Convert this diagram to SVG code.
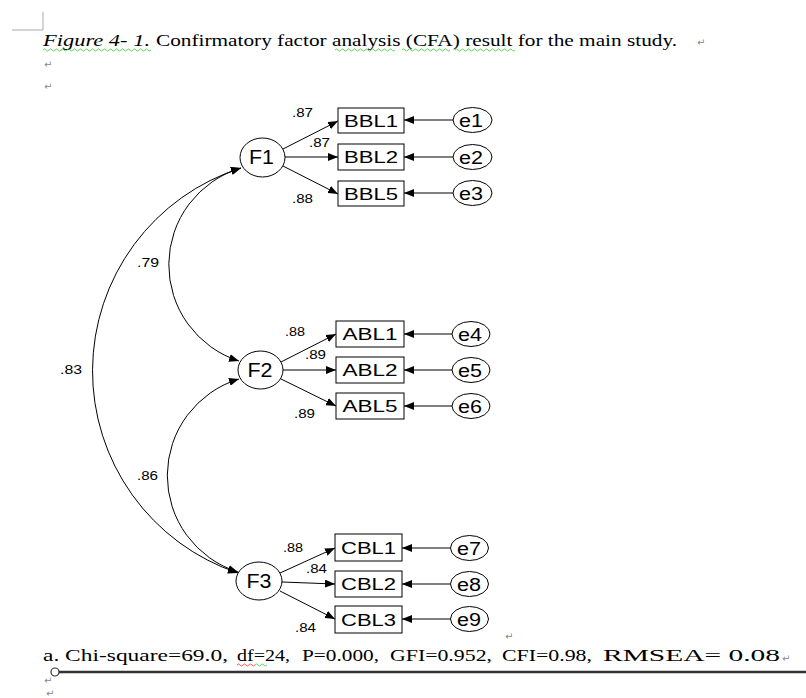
<svg xmlns="http://www.w3.org/2000/svg" width="806" height="698" viewBox="0 0 806 698">
<style>
.lat{fill:#fff;stroke:#000;stroke-width:1}
.obs{fill:#fff;stroke:#000;stroke-width:1}
.fl{font-family:"Liberation Sans",Arial,sans-serif;font-size:20px;fill:#000;text-anchor:middle}
.bl{font-family:"Liberation Sans",Arial,sans-serif;font-size:17px;fill:#000;text-anchor:middle}
.erl{font-family:"Liberation Sans",Arial,sans-serif;font-size:18px;fill:#000;text-anchor:middle}
.el{font-family:"Liberation Sans",Arial,sans-serif;font-size:13px;fill:#000}
.ln{fill:none;stroke:#000;stroke-width:1}
.doc{font-family:"Liberation Serif","Times New Roman",serif;fill:#000}
.pm{font-family:"DejaVu Sans",sans-serif;font-size:10px;fill:#888}
.sq{fill:none;stroke:#3c3;stroke-width:0.8}
</style>
<defs>
<marker id="ah" viewBox="0 0 10 8" refX="10" refY="4" markerWidth="10" markerHeight="8" markerUnits="userSpaceOnUse" orient="auto-start-reverse"><path d="M0,0 L10,4 L0,8 z" fill="#000"/></marker>
</defs>
<rect width="806" height="698" fill="#fff"/>
<!-- page corner mark -->
<path d="M12,30 H43 V12" fill="none" stroke="#aaa" stroke-width="1"/>
<!-- heading -->
<text class="doc" x="43" y="46" font-size="16" font-style="italic" textLength="107" lengthAdjust="spacingAndGlyphs">Figure 4- 1.</text>
<text class="doc" x="156" y="46" font-size="16" textLength="521" lengthAdjust="spacingAndGlyphs">Confirmatory factor analysis (CFA) result for the main study.</text>
<text class="pm" x="697" y="46">↵</text>
<text class="pm" x="44" y="68">↵</text>
<text class="pm" x="44" y="90">↵</text>
<path class="sq" d="M43,50 q1.5,-2 3,0 t3,0 t3,0 t3,0 t3,0 t3,0 t3,0 t3,0 t3,0 t3,0 t3,0 t3,0 t3,0 t3,0 t3,0 t3,0 t3,0 t3,0 t3,0 t3,0 t3,0 t3,0 t3,0 t3,0 t3,0 t3,0 t3,0 t3,0 t3,0 t3,0 t3,0 t3,0 t3,0 t3,0 t3,0 t3,0"/>
<path class="sq" d="M335,50 q1.5,-2 3,0 t3,0 t3,0 t3,0 t3,0 t3,0 t3,0 t3,0 t3,0 t3,0 t3,0 t3,0 t3,0 t3,0 t3,0 t3,0 t3,0 t3,0 t3,0 t3,0"/>
<path class="sq" d="M402,50 q1.5,-2 3,0 t3,0 t3,0 t3,0 t3,0 t3,0 t3,0 t3,0 t3,0 t3,0 t3,0 t3,0 t3,0 t3,0 t3,0 t3,0"/>
<path class="sq" d="M455,50 q1.5,-2 3,0 t3,0 t3,0 t3,0 t3,0 t3,0 t3,0 t3,0 t3,0 t3,0 t3,0 t3,0 t3,0 t3,0 t3,0 t3,0 t3,0 t3,0 t3,0 t3,0"/>

<g id="connectors">
<!-- covariances -->
<path class="ln" d="M241,168 A213,213 0 0 0 238,573" marker-start="url(#ah)" marker-end="url(#ah)"/>
<path class="ln" d="M241,168 A101,101 0 0 0 239,361" marker-start="url(#ah)" marker-end="url(#ah)"/>
<path class="ln" d="M239,379 A101,101 0 0 0 238,572" marker-start="url(#ah)" marker-end="url(#ah)"/>
<!-- loadings F1 -->
<path class="ln" d="M283,149 L338,121" marker-end="url(#ah)"/>
<path class="ln" d="M285,157 L338,157" marker-end="url(#ah)"/>
<path class="ln" d="M283,166 L338,194" marker-end="url(#ah)"/>
<!-- loadings F2 -->
<path class="ln" d="M281,362 L336,334" marker-end="url(#ah)"/>
<path class="ln" d="M283,370 L336,370" marker-end="url(#ah)"/>
<path class="ln" d="M281,379 L336,406" marker-end="url(#ah)"/>
<!-- loadings F3 -->
<path class="ln" d="M280,573 L335,548" marker-end="url(#ah)"/>
<path class="ln" d="M282,582 L335,584" marker-end="url(#ah)"/>
<path class="ln" d="M280,591 L335,619" marker-end="url(#ah)"/>
<!-- errors -->
<path class="ln" d="M453,120 L404,120" marker-end="url(#ah)"/>
<path class="ln" d="M453,157 L404,157" marker-end="url(#ah)"/>
<path class="ln" d="M453,193 L404,193" marker-end="url(#ah)"/>
<path class="ln" d="M452,334 L404,334" marker-end="url(#ah)"/>
<path class="ln" d="M452,370 L404,370" marker-end="url(#ah)"/>
<path class="ln" d="M452,406 L404,406" marker-end="url(#ah)"/>
<path class="ln" d="M451,548 L402,548" marker-end="url(#ah)"/>
<path class="ln" d="M451,584 L402,584" marker-end="url(#ah)"/>
<path class="ln" d="M451,619 L402,619" marker-end="url(#ah)"/>
</g>

<g id="edge-labels">
<text class="el" x="292" y="117" textLength="21" lengthAdjust="spacingAndGlyphs">.87</text>
<text class="el" x="309" y="147" textLength="21" lengthAdjust="spacingAndGlyphs">.87</text>
<text class="el" x="292" y="203" textLength="21" lengthAdjust="spacingAndGlyphs">.88</text>
<text class="el" x="285" y="336" textLength="20" lengthAdjust="spacingAndGlyphs">.88</text>
<text class="el" x="305" y="359" textLength="21" lengthAdjust="spacingAndGlyphs">.89</text>
<text class="el" x="294" y="418" textLength="21" lengthAdjust="spacingAndGlyphs">.89</text>
<text class="el" x="283" y="552" textLength="20" lengthAdjust="spacingAndGlyphs">.88</text>
<text class="el" x="306" y="573" textLength="21" lengthAdjust="spacingAndGlyphs">.84</text>
<text class="el" x="295" y="632" textLength="21" lengthAdjust="spacingAndGlyphs">.84</text>
<text class="el" x="137" y="267" textLength="22" lengthAdjust="spacingAndGlyphs">.79</text>
<text class="el" x="60" y="374" textLength="22" lengthAdjust="spacingAndGlyphs">.83</text>
<text class="el" x="137" y="480" textLength="21" lengthAdjust="spacingAndGlyphs">.86</text>
</g>

<g id="F1"><ellipse class="lat" cx="262.5" cy="157.5" rx="22.5" ry="19.5"/><text class="fl" x="261.5" y="164" textLength="25" lengthAdjust="spacingAndGlyphs">F1</text></g>
<g id="F2"><ellipse class="lat" cx="260.5" cy="370" rx="22.5" ry="19"/><text class="fl" x="260" y="377" textLength="25" lengthAdjust="spacingAndGlyphs">F2</text></g>
<g id="F3"><ellipse class="lat" cx="259" cy="581" rx="23" ry="19"/><text class="fl" x="259" y="588" textLength="25" lengthAdjust="spacingAndGlyphs">F3</text></g>

<g id="BBL1"><rect class="obs" x="338" y="108" width="66" height="25"/><text class="bl" x="371" y="126.5" textLength="54" lengthAdjust="spacingAndGlyphs">BBL1</text></g>
<g id="BBL2"><rect class="obs" x="338" y="144" width="66" height="26"/><text class="bl" x="371" y="163" textLength="54" lengthAdjust="spacingAndGlyphs">BBL2</text></g>
<g id="BBL5"><rect class="obs" x="338" y="181" width="66" height="25"/><text class="bl" x="371" y="199.5" textLength="54" lengthAdjust="spacingAndGlyphs">BBL5</text></g>
<g id="ABL1"><rect class="obs" x="336" y="321" width="68" height="26"/><text class="bl" x="370" y="340" textLength="55" lengthAdjust="spacingAndGlyphs">ABL1</text></g>
<g id="ABL2"><rect class="obs" x="336" y="357" width="68" height="26"/><text class="bl" x="370" y="376" textLength="55" lengthAdjust="spacingAndGlyphs">ABL2</text></g>
<g id="ABL5"><rect class="obs" x="336" y="393" width="68" height="26"/><text class="bl" x="370" y="412" textLength="55" lengthAdjust="spacingAndGlyphs">ABL5</text></g>
<g id="CBL1"><rect class="obs" x="335" y="534" width="67" height="27"/><text class="bl" x="368.5" y="554" textLength="55" lengthAdjust="spacingAndGlyphs">CBL1</text></g>
<g id="CBL2"><rect class="obs" x="335" y="571" width="67" height="26"/><text class="bl" x="368.5" y="590" textLength="55" lengthAdjust="spacingAndGlyphs">CBL2</text></g>
<g id="CBL3"><rect class="obs" x="335" y="606" width="67" height="27"/><text class="bl" x="368.5" y="626" textLength="55" lengthAdjust="spacingAndGlyphs">CBL3</text></g>

<g id="e1"><ellipse class="lat" cx="472.5" cy="120" rx="19.5" ry="12.5"/><text class="erl" x="471" y="126.5" textLength="24" lengthAdjust="spacingAndGlyphs">e1</text></g>
<g id="e2"><ellipse class="lat" cx="472.5" cy="157" rx="19.5" ry="12.5"/><text class="erl" x="471" y="163.5" textLength="24" lengthAdjust="spacingAndGlyphs">e2</text></g>
<g id="e3"><ellipse class="lat" cx="472.5" cy="193" rx="19.5" ry="12.5"/><text class="erl" x="471" y="199.5" textLength="24" lengthAdjust="spacingAndGlyphs">e3</text></g>
<g id="e4"><ellipse class="lat" cx="471" cy="334" rx="19" ry="12.5"/><text class="erl" x="470" y="340.5" textLength="24" lengthAdjust="spacingAndGlyphs">e4</text></g>
<g id="e5"><ellipse class="lat" cx="471" cy="370" rx="19" ry="12.5"/><text class="erl" x="470" y="376.5" textLength="24" lengthAdjust="spacingAndGlyphs">e5</text></g>
<g id="e6"><ellipse class="lat" cx="471" cy="406" rx="19" ry="12.5"/><text class="erl" x="470" y="412.5" textLength="24" lengthAdjust="spacingAndGlyphs">e6</text></g>
<g id="e7"><ellipse class="lat" cx="469.5" cy="548" rx="19" ry="12.5"/><text class="erl" x="469" y="554.5" textLength="24" lengthAdjust="spacingAndGlyphs">e7</text></g>
<g id="e8"><ellipse class="lat" cx="469.5" cy="584" rx="19" ry="12.5"/><text class="erl" x="469" y="590.5" textLength="24" lengthAdjust="spacingAndGlyphs">e8</text></g>
<g id="e9"><ellipse class="lat" cx="469.5" cy="619" rx="19" ry="12.5"/><text class="erl" x="469" y="625.5" textLength="24" lengthAdjust="spacingAndGlyphs">e9</text></g>

<!-- footnote -->
<text class="pm" x="505" y="640">↵</text>
<g class="doc" font-size="17">
<text x="43" y="661" textLength="185" lengthAdjust="spacingAndGlyphs">a. Chi-square=69.0,</text>
<text x="237" y="661" textLength="53" lengthAdjust="spacingAndGlyphs">df=24,</text>
<text x="302" y="661" textLength="77" lengthAdjust="spacingAndGlyphs">P=0.000,</text>
<text x="390" y="661" textLength="102" lengthAdjust="spacingAndGlyphs">GFI=0.952,</text>
<text x="502" y="661" textLength="90" lengthAdjust="spacingAndGlyphs">CFI=0.98,</text>
<text x="603" y="661" textLength="177" lengthAdjust="spacingAndGlyphs">RMSEA= 0.08</text>
</g>
<text class="pm" x="782" y="662">↵</text>
<path d="M237,665 q1.5,-2 3,0 t3,0 t3,0 t3,0 t3,0 t3,0" fill="none" stroke="#e33" stroke-width="0.8"/>
<path d="M255,665 q1.5,-2 3,0 t3,0 t3,0 t3,0" fill="none" stroke="#3c3" stroke-width="0.8"/>
<line x1="59" y1="672" x2="806" y2="672" stroke="#333" stroke-width="2.5"/>
<circle cx="55" cy="672" r="4" fill="#fff" stroke="#333" stroke-width="1.2"/>
<text class="pm" x="44" y="684">↵</text>
<text class="pm" x="46" y="697" font-size="7">↵</text>
</svg>
